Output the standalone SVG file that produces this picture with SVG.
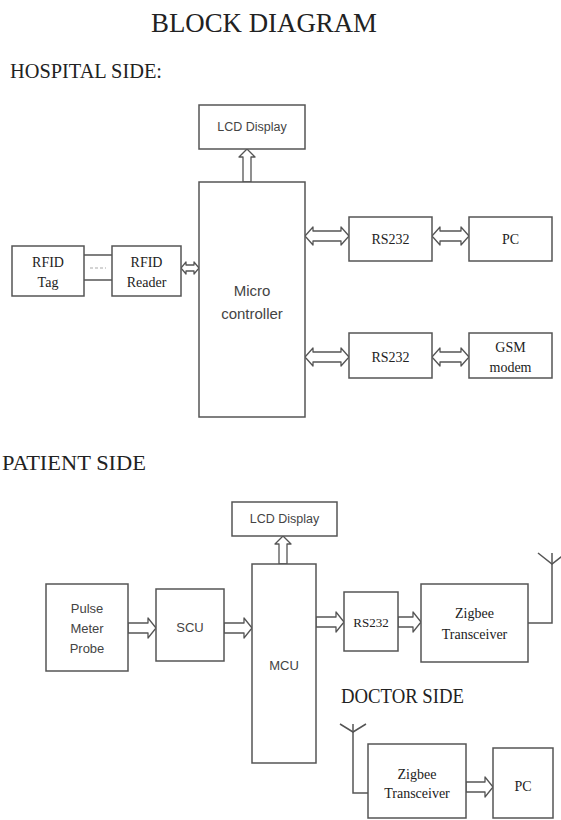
<svg xmlns="http://www.w3.org/2000/svg" width="561" height="820" viewBox="0 0 561 820">
<style>
.box{fill:#fff;stroke:#555;stroke-width:1.5}
.arr{fill:#fff;stroke:#555;stroke-width:1.3;stroke-linejoin:round}
.ln{fill:none;stroke:#555;stroke-width:1.5}
.serif{font-family:"Liberation Serif","Times New Roman",serif;fill:#222}
.sans{font-family:"Liberation Sans",Arial,sans-serif;fill:#444}
.t{text-anchor:middle;dominant-baseline:central}
</style>
<rect width="561" height="820" fill="#fff"/>
<text class="serif" x="264" y="32" font-size="28" text-anchor="middle" textLength="226" lengthAdjust="spacingAndGlyphs">BLOCK DIAGRAM</text>
<text class="serif" x="10" y="78" font-size="21" textLength="152" lengthAdjust="spacingAndGlyphs">HOSPITAL SIDE:</text>
<text class="serif" x="2" y="470" font-size="21" textLength="144" lengthAdjust="spacingAndGlyphs">PATIENT SIDE</text>
<text class="serif" x="341" y="703" font-size="20" textLength="123" lengthAdjust="spacingAndGlyphs">DOCTOR SIDE</text>

<g id="connectors">
  <line class="ln" x1="84" y1="255" x2="112" y2="255"/>
  <line class="ln" x1="84" y1="280" x2="112" y2="280"/>
  <line x1="90" y1="268" x2="106" y2="268" stroke="#aaa" stroke-width="1.2" stroke-dasharray="3,2"/>
  <path class="arr" d="M181,268 L186,262 L186,265 L194,265 L194,262 L199,268 L194,274 L194,271 L186,271 L186,274 Z"/>
  <path class="arr" d="M243,182 L243,157 L239,157 L247,149 L255,157 L251,157 L251,182 Z"/>
  <path class="arr" d="M305,236 L313,227 L313,231 L341,231 L341,227 L349,236 L341,245 L341,241 L313,241 L313,245 Z"/>
  <path class="arr" d="M432,236 L440,227 L440,231 L461,231 L461,227 L469,236 L461,245 L461,241 L440,241 L440,245 Z"/>
  <path class="arr" d="M305,357 L313,348 L313,352 L341,352 L341,348 L349,357 L341,366 L341,362 L313,362 L313,366 Z"/>
  <path class="arr" d="M432,357 L440,348 L440,352 L461,352 L461,348 L469,357 L461,366 L461,362 L440,362 L440,366 Z"/>
  <path class="arr" d="M128,623 L148,623 L148,618 L156,628 L148,638 L148,633 L128,633 Z"/>
  <path class="arr" d="M224,623 L244,623 L244,618 L252,628 L244,638 L244,633 L224,633 Z"/>
  <path class="arr" d="M279,564 L279,544 L275,544 L283,536 L291,544 L287,544 L287,564 Z"/>
  <path class="arr" d="M316,617 L336,617 L336,612 L344,622 L336,632 L336,627 L316,627 Z"/>
  <path class="arr" d="M398,617 L413,617 L413,612 L421,622 L413,632 L413,627 L398,627 Z"/>
  <polyline class="ln" points="528,623 552,623 552,553"/>
  <polyline class="ln" points="538,553 552,564 566,553"/>
  <polyline class="ln" points="368,793 353,793 353,724"/>
  <polyline class="ln" points="340,724 353,732 366,724"/>
  <path class="arr" d="M466,782 L485,782 L485,777 L493,787 L485,797 L485,792 L466,792 Z"/>
</g>

<g id="lcd1"><rect class="box" x="199" y="105" width="106" height="44"/><text class="sans t" x="252" y="127" font-size="12.5">LCD Display</text></g>
<g id="micro"><rect class="box" x="199" y="182" width="106" height="235"/><text class="sans t" x="252" y="290" font-size="15">Micro</text><text class="sans t" x="252" y="313" font-size="15">controller</text></g>
<g id="rfidtag"><rect class="box" x="12" y="246" width="72" height="50"/><text class="serif t" x="48" y="262" font-size="14">RFID</text><text class="serif t" x="48" y="282" font-size="14">Tag</text></g>
<g id="rfidreader"><rect class="box" x="112" y="246" width="69" height="50"/><text class="serif t" x="146.5" y="262" font-size="14">RFID</text><text class="serif t" x="146.5" y="282" font-size="14">Reader</text></g>
<g id="rs232a"><rect class="box" x="349" y="217" width="83" height="44"/><text class="serif t" x="390.5" y="239" font-size="14">RS232</text></g>
<g id="pc1"><rect class="box" x="469" y="217" width="83" height="44"/><text class="serif t" x="510.5" y="239" font-size="14">PC</text></g>
<g id="rs232b"><rect class="box" x="349" y="333" width="83" height="45"/><text class="serif t" x="390.5" y="357" font-size="14">RS232</text></g>
<g id="gsm"><rect class="box" x="469" y="333" width="83" height="45"/><text class="serif t" x="510.5" y="347" font-size="14">GSM</text><text class="serif t" x="510.5" y="367" font-size="14">modem</text></g>

<g id="lcd2"><rect class="box" x="232" y="502" width="105" height="34"/><text class="sans t" x="284.5" y="519" font-size="12.5">LCD Display</text></g>
<g id="pulse"><rect class="box" x="46" y="584" width="82" height="87"/><text class="sans t" x="87" y="608" font-size="13">Pulse</text><text class="sans t" x="87" y="628" font-size="13">Meter</text><text class="sans t" x="87" y="648" font-size="13">Probe</text></g>
<g id="scu"><rect class="box" x="156" y="589" width="68" height="72"/><text class="sans t" x="190" y="627" font-size="13">SCU</text></g>
<g id="mcu"><rect class="box" x="252" y="564" width="64" height="199"/><text class="sans t" x="284" y="665" font-size="13">MCU</text></g>
<g id="rs232c"><rect class="box" x="344" y="592" width="54" height="59"/><text class="serif t" x="371" y="622" font-size="13">RS232</text></g>
<g id="zigbee1"><rect class="box" x="421" y="584" width="107" height="78"/><text class="serif t" x="474.5" y="613" font-size="14">Zigbee</text><text class="serif t" x="474.5" y="634" font-size="14">Transceiver</text></g>
<g id="zigbee2"><rect class="box" x="368" y="744" width="98" height="74"/><text class="serif t" x="417" y="774" font-size="14">Zigbee</text><text class="serif t" x="417" y="793" font-size="14">Transceiver</text></g>
<g id="pc2"><rect class="box" x="493" y="748" width="60" height="70"/><text class="serif t" x="523" y="786" font-size="14">PC</text></g>
</svg>
